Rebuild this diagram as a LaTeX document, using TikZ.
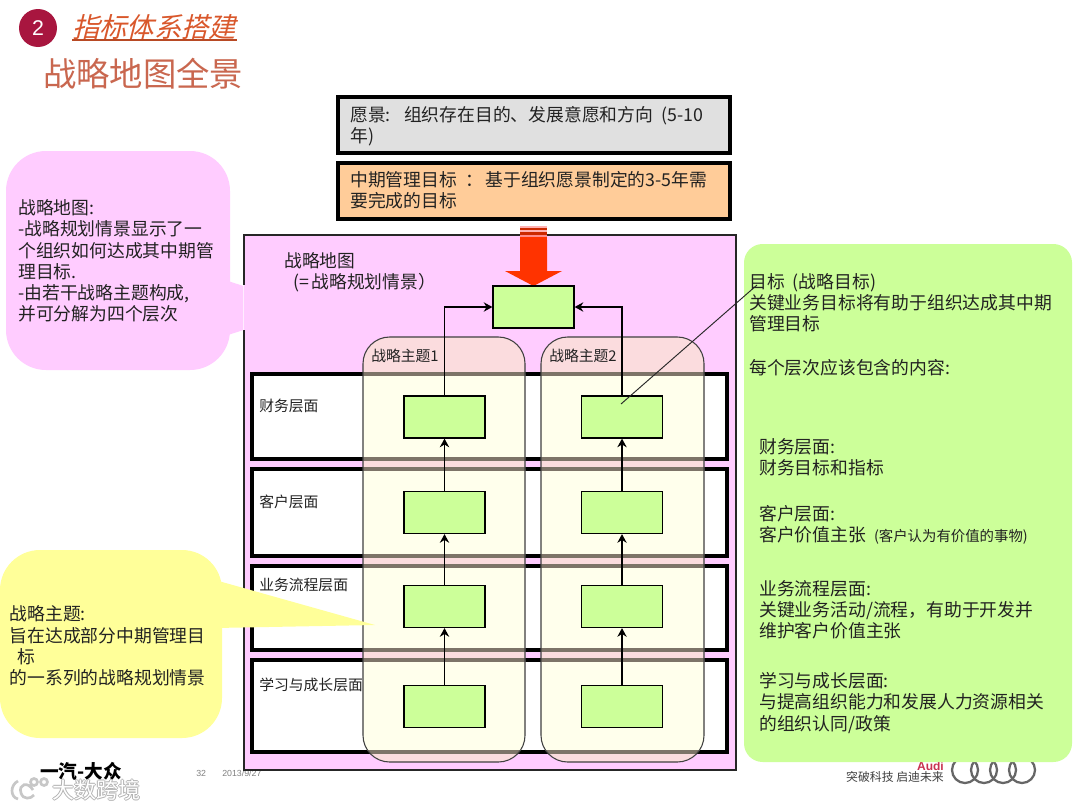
\documentclass[tikz,border=0pt]{standalone}
\usepackage{fontspec}
\setmainfont{Noto Sans CJK SC}
\newfontfamily\cjkslant[FakeSlant=0.25]{Noto Sans CJK SC}
\newfontfamily\latinsans{Liberation Sans}
\usetikzlibrary{arrows.meta}
\definecolor{panelpink}{HTML}{FFCCFF}
\definecolor{callyellow}{HTML}{FFFF99}
\definecolor{boxgreen}{HTML}{CCFF99}
\definecolor{boxorange}{HTML}{FFCC99}
\definecolor{boxgray}{HTML}{E0E0E0}
\definecolor{titlered}{HTML}{D9572B}
\definecolor{subred}{HTML}{C9674F}
\definecolor{badge}{HTML}{A8163F}
\definecolor{inktext}{HTML}{222222}
\definecolor{hatch}{HTML}{7D7468}
\definecolor{redarrow}{HTML}{FF3300}
\definecolor{audired}{HTML}{C83250}
\definecolor{themerose}{HTML}{FBDCDE}
\definecolor{themeivory}{HTML}{FFFFEC}
\tikzset{
  txt/.style={anchor=west,align=left,inner sep=0pt,text=inktext,font=\fontsize{13.35}{15.9}\selectfont},
  rowlabel/.style={anchor=west,inner sep=0pt,text=inktext,font=\fontsize{11.1}{13}\selectfont},
  goalbox/.style={draw=black,line width=0.9pt,fill=boxgreen,minimum width=60.75pt,minimum height=31.5pt,inner sep=0pt},
  rowbox/.style={draw=black,line width=2.4pt,fill=white},
  topbox/.style={draw=black,line width=2.6pt},
  themeedge/.style={draw=black!75,line width=0.8pt,rounded corners=20pt},
  link/.style={draw=black,line width=1pt,-{Stealth[length=6.5pt,width=7pt]}},
  ring/.style={draw=black!60,line width=1.7pt},
}
\begin{document}
\begin{tikzpicture}[x=0.75pt,y=-0.75pt]
\useasboundingbox (0,0) rectangle (1080,810);
\fill[white] (0,0) rectangle (1080,810);

% header
\node[circle,fill=badge,minimum size=28.5pt,inner sep=0pt,text=white,font=\latinsans\fontsize{16}{18}\selectfont] (badgeno) at (38,28) {2};
\node[anchor=west,inner sep=0pt,text=titlered,font=\cjkslant\fontsize{20.5}{24}\selectfont] (maintitle) at (72,27) {指标体系搭建};
\draw[titlered!85!black,line width=1pt] (maintitle.south west |- 0,40) -- (maintitle.south east |- 0,40);
\node[anchor=west,inner sep=0pt,text=subred,font=\fontsize{25}{30}\selectfont] (subtitle) at (43,74) {战略地图全景};

% top boxes
\draw[topbox,fill=boxgray] (338,97) rectangle (730,153);
\node[txt] (vision) at (350,126) {愿景:\hspace{6pt} 组织存在目的、发展意愿和方向\hspace{3pt} (5-10\\年)};
\draw[topbox,fill=boxorange] (338,163) rectangle (730,219);
\node[txt] (midgoal) at (350,190) {中期管理目标\hspace{3pt} ：\hspace{2pt}基于组织愿景制定的3-5年需\\要完成的目标};

% footer
\node[anchor=west,inner sep=0pt,text=black,font=\bfseries\fontsize{14}{16}\selectfont] (fawvw) at (40,771) {一汽-大众};
\node[anchor=west,inner sep=0pt,text=black!50,font=\latinsans\fontsize{6.6}{8}\selectfont] (pageno) at (196,773) {32};
\node[anchor=west,inner sep=0pt,text=black!50,font=\latinsans\fontsize{6.6}{8}\selectfont] (pagedate) at (222,773) {2013/9/27};
\node[anchor=east,inner sep=0pt,text=audired,font=\latinsans\bfseries\fontsize{9}{10}\selectfont] (audi) at (944,766) {Audi};
\node[anchor=east,inner sep=0pt,text=black!75,font=\fontsize{8.9}{10}\selectfont] (slogan) at (944,776.5) {突破科技 启迪未来};
\foreach \cx in {965,984,1003,1022} \draw[ring] (\cx,770) circle (13);

% watermark
\foreach \dx/\dy in {-1/0,1/0,0/-1,0/1}
  \node[anchor=west,inner sep=0pt,text=black!30,font=\fontsize{16.5}{18}\selectfont] at (52+\dx,790+\dy) {大数跨境};
\node[anchor=west,inner sep=0pt,text=white,font=\fontsize{16.5}{18}\selectfont] (watermark) at (52,790) {大数跨境};
\draw[black!22,line width=2pt] (18,781) .. controls (10,785) and (10,797) .. (18,799)
  (33,790) .. controls (28,781) and (18,784) .. (21,793) .. controls (23,800) and (31,799) .. (34,795)
  (34,782) circle (3.5) (44,782) circle (3.5);

% strategy map panel and its callout
\fill[panelpink] (244,235) rectangle (736,770);
\draw[black!85,line width=1.1pt] (244,285) -- (244,235) -- (736,235) -- (736,770) -- (244,770) -- (244,330);
\fill[panelpink,rounded corners=30pt] (6,151) rectangle (230,370);
\fill[panelpink] (225,280) -- (243.4,286) -- (243.4,330) -- (225,336) -- cycle;
\node[txt] (mapnote) at (18,261) {战略地图:\\-战略规划情景显示了一\\个组织如何达成其中期管\\理目标.\\-由若干战略主题构成,\\并可分解为四个层次};

\node[anchor=west,inner sep=0pt,text=inktext,font=\fontsize{13.3}{16}\selectfont] (maplabel) at (284,261) {战略地图};
\node[anchor=west,inner sep=0pt,text=inktext,font=\fontsize{13.3}{16}\selectfont] (mapsub) at (293,283) {(=\hspace{2pt}战略规划情景）};

% rows
\draw[rowbox] (252,374) rectangle (727,459);
\draw[rowbox] (252,469) rectangle (727,556);
\draw[rowbox] (252,566) rectangle (727,650);
\draw[rowbox] (252,660) rectangle (727,752);

% themes
\fill[themerose,rounded corners=20pt] (363,337) rectangle (525,762);
\fill[themerose,rounded corners=20pt] (541,337) rectangle (704,762);
\begin{scope}
  \clip[rounded corners=20pt] (363,337) rectangle (525,762) (541,337) rectangle (704,762);
  \foreach \ya/\yb in {374/459,469/556,566/650,660/752}
    \draw[hatch,fill=themeivory,line width=2.4pt] (252,\ya) rectangle (727,\yb);
\end{scope}
\draw[themeedge] (363,337) rectangle (525,762);
\draw[themeedge] (541,337) rectangle (704,762);
\node[rowlabel] (themeone) at (371,356) {战略主题1};
\node[rowlabel] (themetwo) at (549,356) {战略主题2};

% yellow callout
\fill[callyellow,rounded corners=30pt] (0,550) rectangle (222,738);
\fill[callyellow] (215,580) -- (375,625) -- (215,628) -- cycle;
\node[txt] (themenote) at (9.5,646) {战略主题:\\旨在达成部分中期管理目\\\ \ 标\\的一系列的战略规划情景};

\node[rowlabel] (rowfin) at (259,406) {财务层面};
\node[rowlabel] (rowcus) at (259,502) {客户层面};
\node[rowlabel] (rowpro) at (259,585) {业务流程层面};
\node[rowlabel] (rowlea) at (259,685) {学习与成长层面};

% red arrow
\fill[redarrow] (520,240) -- (547,240) -- (547,271) -- (562,271) -- (533.5,286) -- (505,271) -- (520,271) -- cycle;
\fill[red!30!white] (520,226) rectangle (547,228);
\fill[redarrow!80!black] (520,228) rectangle (547,230);
\fill[red!30!white] (520,230) rectangle (547,232);
\fill[redarrow!80!black] (520,232) rectangle (547,235);
\fill[red!45!white] (520,235) rectangle (547,237);
\fill[redarrow] (520,237) rectangle (547,240);

% goal boxes
\node[goalbox] (goaltop) at (533.5,307) {};
\foreach \nm/\cx in {a/444.5,b/622}{
  \node[goalbox] (\nm1) at (\cx,417) {};
  \node[goalbox] (\nm2) at (\cx,512.5) {};
  \node[goalbox] (\nm3) at (\cx,606.5) {};
  \node[goalbox] (\nm4) at (\cx,706.5) {};
  \draw[link] (\nm4) -- (\nm3);
  \draw[link] (\nm3) -- (\nm2);
  \draw[link] (\nm2) -- (\nm1);
}
\draw[link] (a1.north) |- (goaltop.west);
\draw[link] (b1.north) |- (goaltop.east);

% green panel
\fill[boxgreen,rounded corners=14pt] (744,244) rectangle (1072,762);
\coordinate (leadfrom) at (757,285);
\coordinate (leadto) at (621,404);
\draw[black!85,line width=0.7pt] (leadfrom) -- (leadto);
\node[txt] (goalnote) at (749,303) {目标\hspace{3pt} (战略目标)\\关键业务目标将有助于组织达成其中期\\管理目标};
\node[txt] (eachlevel) at (749,368) {每个层次应该包含的内容:};
\node[txt] (finnote) at (759,457) {财务层面:\\财务目标和指标};
\node[txt] (cusnote) at (759,525) {客户层面:\\客户价值主张\hspace{3pt} {\fontsize{10.8}{12}\selectfont (客户认为有价值的事物)}};
\node[txt] (pronote) at (759,610) {业务流程层面:\\关键业务活动/流程，有助于开发并\\维护客户价值主张};
\node[txt] (leanote) at (759,703) {学习与成长层面:\\与提高组织能力和发展人力资源相关\\的组织认同/政策};
\end{tikzpicture}
\end{document}
